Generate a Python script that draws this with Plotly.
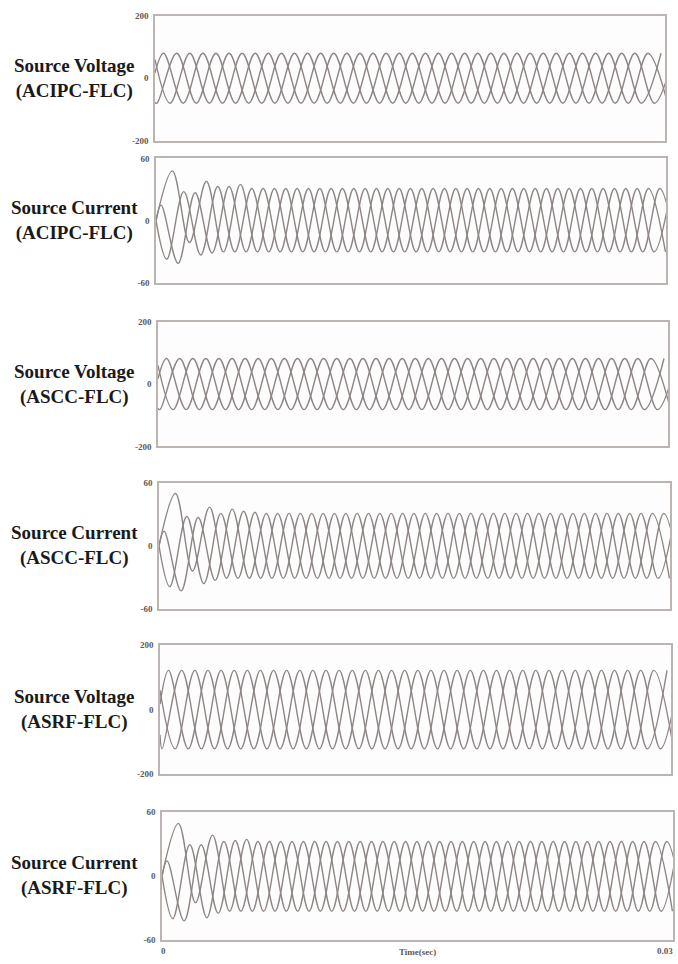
import plotly.graph_objects as go

# ---------------------------------------------------------------------------
# Waveform data: successive extremes (signed peak values) of the three-phase
# set, in time order. Consecutive extremes are one sixth of a period apart and
# belong to phases 0, 1, 2, 0, 1, 2, ...
# ---------------------------------------------------------------------------
T_END = 0.03

V_PERIOD = 0.00231
V_FIRST = 0.00012
I_PERIOD = 0.002
I_FIRST = 0.0003

V_START = [-78, 17, 60]
I_START = [0, 0, 0]

vs_acipc = [
    -80, 80, -80, 80, -80, 80, -80, 80, -80, 80,
    -80, 80, -80, 80, -80, 80, -80, 80, -80, 80,
    -80, 80, -80, 80, -80, 80, -80, 80, -80, 80,
    -80, 80, -80, 80, -80, 80, -80, 80, -80, 80,
    -80, 80, -80, 80, -80, 80, -80, 80, -80, 80,
    -80, 80, -80, 80, -80, 80, -80, 80, -80, 80,
    -80, 80, -80, 80, -80, 80, -80, 80, -80, 80,
    -80, 80, -80, 80, -80, 80, -80, 80, -80, 80,
]
is_acipc = [
    15, -37, 48, -41, 28, -21, 27, -33, 38, -31,
    33, -30, 33, -30, 35, -30, 31, -30, 31, -30,
    31, -30, 31, -30, 31, -30, 31, -30, 31, -30,
    31, -30, 31, -30, 31, -30, 31, -30, 31, -30,
    31, -30, 31, -30, 31, -30, 31, -30, 31, -30,
    31, -30, 31, -30, 31, -30, 31, -30, 31, -30,
    31, -30, 31, -30, 31, -30, 31, -30, 31, -30,
    31, -30, 31, -30, 31, -30, 31, -30, 31, -30,
    31, -30, 31, -30, 31, -30, 31, -30, 31, -30,
    31, -30,
]
vs_ascc = [
    -82, 82, -82, 82, -82, 82, -82, 82, -82, 82,
    -82, 82, -82, 82, -82, 82, -82, 82, -82, 82,
    -82, 82, -82, 82, -82, 82, -82, 82, -82, 82,
    -82, 82, -82, 82, -82, 82, -82, 82, -82, 82,
    -82, 82, -82, 82, -82, 82, -82, 82, -82, 82,
    -82, 82, -82, 82, -82, 82, -82, 82, -82, 82,
    -82, 82, -82, 82, -82, 82, -82, 82, -82, 82,
    -82, 82, -82, 82, -82, 82, -82, 82, -82, 82,
]
is_ascc = [
    14, -39, 50, -43, 28, -24, 27, -36, 37, -33,
    31, -31, 35, -31, 33, -31, 32, -31, 31, -31,
    31, -31, 31, -31, 31, -31, 31, -31, 31, -31,
    31, -31, 31, -31, 31, -31, 31, -31, 31, -31,
    31, -31, 31, -31, 31, -31, 31, -31, 31, -31,
    31, -31, 31, -31, 31, -31, 31, -31, 31, -31,
    31, -31, 31, -31, 31, -31, 31, -31, 31, -31,
    31, -31, 31, -31, 31, -31, 31, -31, 31, -31,
    31, -31, 31, -31, 31, -31, 31, -31, 31, -31,
    31, -31,
]
vs_asrf = [
    -122, 122, -122, 122, -122, 122, -122, 122, -122, 122,
    -122, 122, -122, 122, -122, 122, -122, 122, -122, 122,
    -122, 122, -122, 122, -122, 122, -122, 122, -122, 122,
    -122, 122, -122, 122, -122, 122, -122, 122, -122, 122,
    -122, 122, -122, 122, -122, 122, -122, 122, -122, 122,
    -122, 122, -122, 122, -122, 122, -122, 122, -122, 122,
    -122, 122, -122, 122, -122, 122, -122, 122, -122, 122,
    -122, 122, -122, 122, -122, 122, -122, 122, -122, 122,
]
is_asrf = [
    14, -40, 49, -42, 29, -25, 29, -39, 38, -35,
    32, -33, 33, -33, 34, -33, 32, -33, 32, -33,
    32, -33, 32, -33, 32, -33, 32, -33, 32, -33,
    32, -33, 32, -33, 32, -33, 32, -33, 32, -33,
    32, -33, 32, -33, 32, -33, 32, -33, 32, -33,
    32, -33, 32, -33, 32, -33, 32, -33, 32, -33,
    32, -33, 32, -33, 32, -33, 32, -33, 32, -33,
    32, -33, 32, -33, 32, -33, 32, -33, 32, -33,
    32, -33, 32, -33, 32, -33, 32, -33, 32, -33,
    32, -33,
]

panel_titles = [
    ("Source Voltage", "(ACIPC-FLC)"),
    ("Source Current", "(ACIPC-FLC)"),
    ("Source Voltage", "(ASCC-FLC)"),
    ("Source Current", "(ASCC-FLC)"),
    ("Source Voltage", "(ASRF-FLC)"),
    ("Source Current", "(ASRF-FLC)"),
]
voltage_ticks = [-200, 0, 200]
current_ticks = [-60, 0, 60]
time_ticks = [0, 0.03]
time_tick_text = ["0", "0.03"]
time_title = "Time(sec)"

panels = [
    (vs_acipc, V_PERIOD, V_FIRST, V_START, voltage_ticks),
    (is_acipc, I_PERIOD, I_FIRST, I_START, current_ticks),
    (vs_ascc, V_PERIOD, V_FIRST, V_START, voltage_ticks),
    (is_ascc, I_PERIOD, I_FIRST, I_START, current_ticks),
    (vs_asrf, V_PERIOD, V_FIRST, V_START, voltage_ticks),
    (is_asrf, I_PERIOD, I_FIRST, I_START, current_ticks),
]

# Plot-area boxes in pixels (left, right, top, bottom) on the 678 x 964 page
W, H = 678, 964
boxes = [
    (155, 665, 11, 137),
    (156, 666, 155, 281),
    (158, 668, 320, 446),
    (159, 670, 483, 610),
    (160, 671, 647, 777),
    (162, 673, 815, 945),
]

WAVE_COLOR = "#8e8684"
FRAME_COLOR = "#bcb4b0"
TICK_COLOR = "#5a5a5a"
SERIF = "Liberation Serif, serif"
tick_font = dict(family=SERIF, size=9, color=TICK_COLOR, weight="bold")

fig = go.Figure()
layout = {}
annotations = []

for i, ((peaks, period, first, start, ticks), box, title) in enumerate(
        zip(panels, boxes, panel_titles)):
    n = i + 1
    xa = "x" if n == 1 else f"x{n}"
    ya = "y" if n == 1 else f"y{n}"
    step = period / 6.0
    for ph in range(3):
        xs = [0.0]
        ys = [start[ph]]
        for k, v in enumerate(peaks):
            if k % 3 == ph:
                xs.append(first + k * step)
                ys.append(v)
        fig.add_trace(go.Scatter(
            x=xs, y=ys, mode="lines", xaxis=xa, yaxis=ya,
            line=dict(color=WAVE_COLOR, width=1.4, shape="spline", smoothing=1),
            hoverinfo="skip", showlegend=False,
        ))

    l, r, t, b = box
    layout[f"xaxis{'' if n == 1 else n}"] = dict(
        domain=[l / W, r / W], range=[0, T_END], anchor=ya,
        showgrid=False, zeroline=False,
        showline=True, mirror=True, linecolor=FRAME_COLOR, linewidth=1.5,
        ticks="", showticklabels=False,
    )
    lim = ticks[-1]
    layout[f"yaxis{'' if n == 1 else n}"] = dict(
        domain=[1 - b / H, 1 - t / H], range=[-lim, lim], anchor=xa,
        showgrid=False, zeroline=False,
        showline=True, mirror=True, linecolor=FRAME_COLOR, linewidth=1.5,
        ticks="", tickvals=ticks, ticktext=[str(v) for v in ticks],
        tickfont=tick_font, ticklabelstandoff=3,
    )
    annotations.append(dict(
        xref="paper", yref="paper", x=74 / W, y=1 - (t + b) / 2 / H,
        xanchor="center", yanchor="middle", showarrow=False,
        text=f"<b>{title[0]}</b><br><b>{title[1]}</b>",
        font=dict(family=SERIF, size=19, color="#1a1a1a"),
    ))

# Time-axis labels under the last panel, placed in that panel's data coordinates
last_x = f"x{len(panels)}"
last_y = f"y{len(panels)}"
for tv, tt, anchor in zip(time_ticks, time_tick_text, ["center", "right"]):
    annotations.append(dict(
        xref=last_x, yref="paper", x=tv, y=1 - 956 / H,
        xanchor=anchor, yanchor="middle", showarrow=False, xshift=2 if anchor == "right" else 1,
        text=f"<b>{tt}</b>", font=tick_font,
    ))
annotations.append(dict(
    xref=last_x, yref="paper", x=T_END / 2, y=1 - 957 / H,
    xanchor="center", yanchor="middle", showarrow=False,
    text=f"<b>{time_title}</b>", font=tick_font,
))

fig.update_layout(
    width=W, height=H,
    margin=dict(l=0, r=0, t=0, b=0),
    paper_bgcolor="white", plot_bgcolor="#fdfdfe",
    annotations=annotations,
    **layout,
)

fig.write_html("out.html")
